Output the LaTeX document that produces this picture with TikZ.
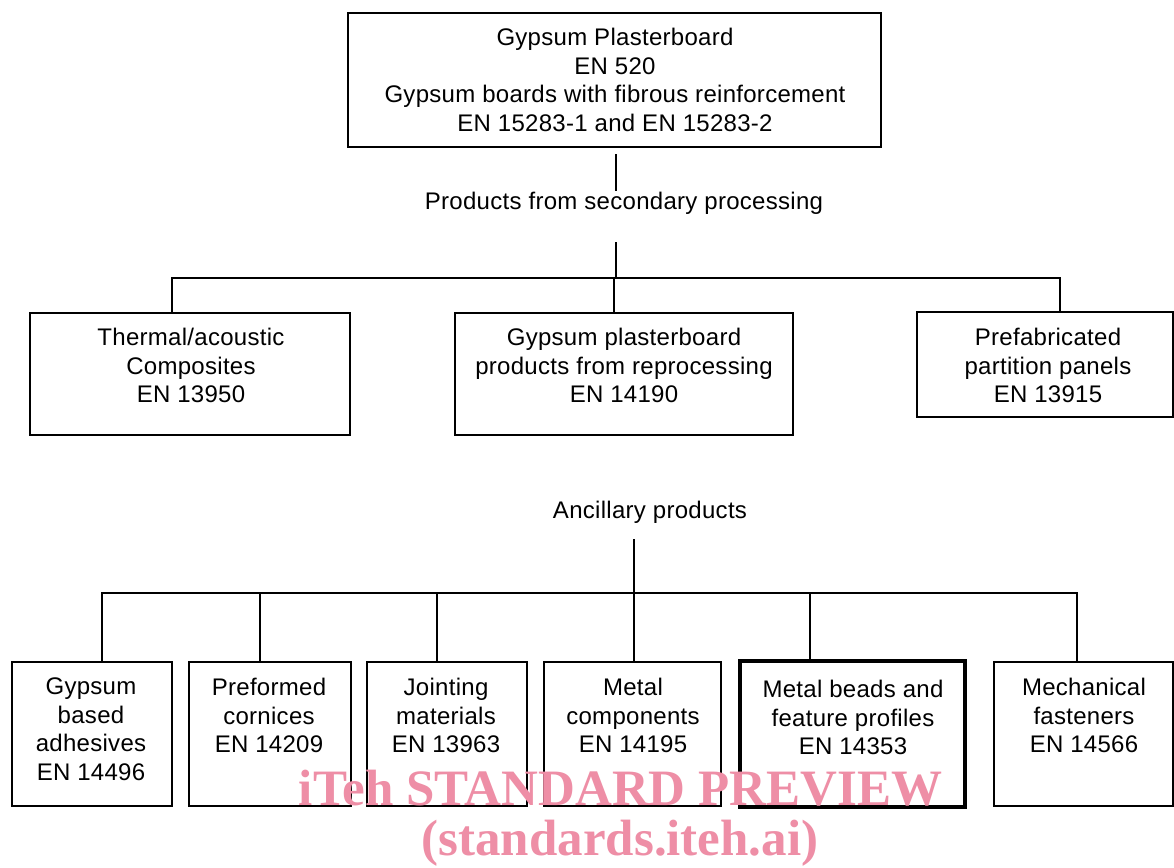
\documentclass[tikz,border=0pt]{standalone}
\usepackage{fontspec}
\setmainfont{Liberation Sans}[LetterSpace=1.2]
\newfontfamily\wmfont{Liberation Serif}
\definecolor{wmpink}{RGB}{238,142,166}
\begin{document}
\begin{tikzpicture}[x=1pt,y=-1pt,
  box/.style={draw, line width=1.8pt, inner sep=0pt},
  thickbox/.style={draw, line width=4pt, inner sep=0pt},
  txt/.style={font=\fontsize{24pt}{28.5pt}\selectfont, align=center, inner sep=0pt, anchor=north},
  lbl/.style={font=\fontsize{24pt}{28.5pt}\selectfont, inner sep=0pt, anchor=base},
  conn/.style={line width=1.8pt},
  wm/.style={font=\wmfont\bfseries\fontsize{51pt}{51pt}\selectfont, text=wmpink, inner sep=0pt, anchor=base}]
\fill[white] (0,0) rectangle (1174,867);
\useasboundingbox (0,0) rectangle (1174,867);

% top box
\node[box, minimum width=533pt, minimum height=134pt] (top) at (614.5,80) {};
\node[txt] (topt) at (615,28) {Gypsum Plasterboard\\EN 520\\Gypsum boards with fibrous reinforcement\\EN 15283-1 and EN 15283-2};

% secondary processing
\coordinate (a1) at (616,154);
\coordinate (a2) at (616,191);
\draw[conn] (a1) -- (a2);
\node[lbl] (sec) at (624,209) {Products from secondary processing};
\coordinate (a3) at (616,242);
\coordinate (a4) at (616,278);
\draw[conn] (a3) -- (a4);

\node[box, minimum width=320pt, minimum height=122pt] (r1) at (190,374) {};
\node[txt] (r1t) at (191,328) {Thermal/acoustic\\Composites\\EN 13950};
\node[box, minimum width=338pt, minimum height=122pt] (r2) at (624,374) {};
\node[txt] (r2t) at (624,328) {Gypsum plasterboard\\products from reprocessing\\EN 14190};
\node[box, minimum width=256pt, minimum height=105pt] (r3) at (1045,364.5) {};
\node[txt] (r3t) at (1048,328) {Prefabricated\\partition panels\\EN 13915};

\coordinate (hl) at (172,278);
\coordinate (hr) at (1060,278);
\coordinate (hm) at (614,278);
\draw[conn] (hl |- r1.north) -- (hl) -- (hr) -- (hr |- r3.north);
\draw[conn] (hm) -- (hm |- r2.north);

% ancillary products
\node[lbl] (anc) at (650,518) {Ancillary products};
\coordinate (c1) at (634,539);
\coordinate (c2) at (634,593);

\node[box, minimum width=160pt, minimum height=144pt] (b1) at (92,734) {};
\node[txt] (b1t) at (91,678) {Gypsum\\based\\adhesives\\EN 14496};
\node[box, minimum width=162pt, minimum height=144pt] (b2) at (270,734) {};
\node[txt] (b2t) at (269,678) {Preformed\\cornices\\EN 14209};
\node[box, minimum width=160pt, minimum height=144pt] (b3) at (447,734) {};
\node[txt] (b3t) at (446,678) {Jointing\\materials\\EN 13963};
\node[box, minimum width=177pt, minimum height=144pt] (b4) at (632.5,734) {};
\node[txt] (b4t) at (633,678) {Metal\\components\\EN 14195};
\node[thickbox, minimum width=225pt, minimum height=146pt] (b5) at (852.5,733.5) {};
\node[txt] (b5t) at (853,680) {Metal beads and\\feature profiles\\EN 14353};
\node[box, minimum width=179pt, minimum height=144pt] (b6) at (1083.5,734) {};
\node[txt] (b6t) at (1084,678) {Mechanical\\fasteners\\EN 14566};

\coordinate (v1) at (102,593);
\coordinate (v2) at (260,593);
\coordinate (v3) at (437,593);
\coordinate (v5) at (810,593);
\coordinate (v6) at (1077,593);
\draw[conn] (c1) -- (c2) -- (c2 |- b4.north);
\draw[conn] (v1 |- b1.north) -- (v1) -- (v6) -- (v6 |- b6.north);
\draw[conn] (v2) -- (v2 |- b2.north);
\draw[conn] (v3) -- (v3 |- b3.north);
\draw[conn] (v5) -- (v5 |- b5.north);

% watermark
\node[wm] (wm1) at (620.5,805) {iTeh STANDARD PREVIEW};
\node[wm] (wm2) at (620,855) {(standards.iteh.ai)};
\end{tikzpicture}
\end{document}
